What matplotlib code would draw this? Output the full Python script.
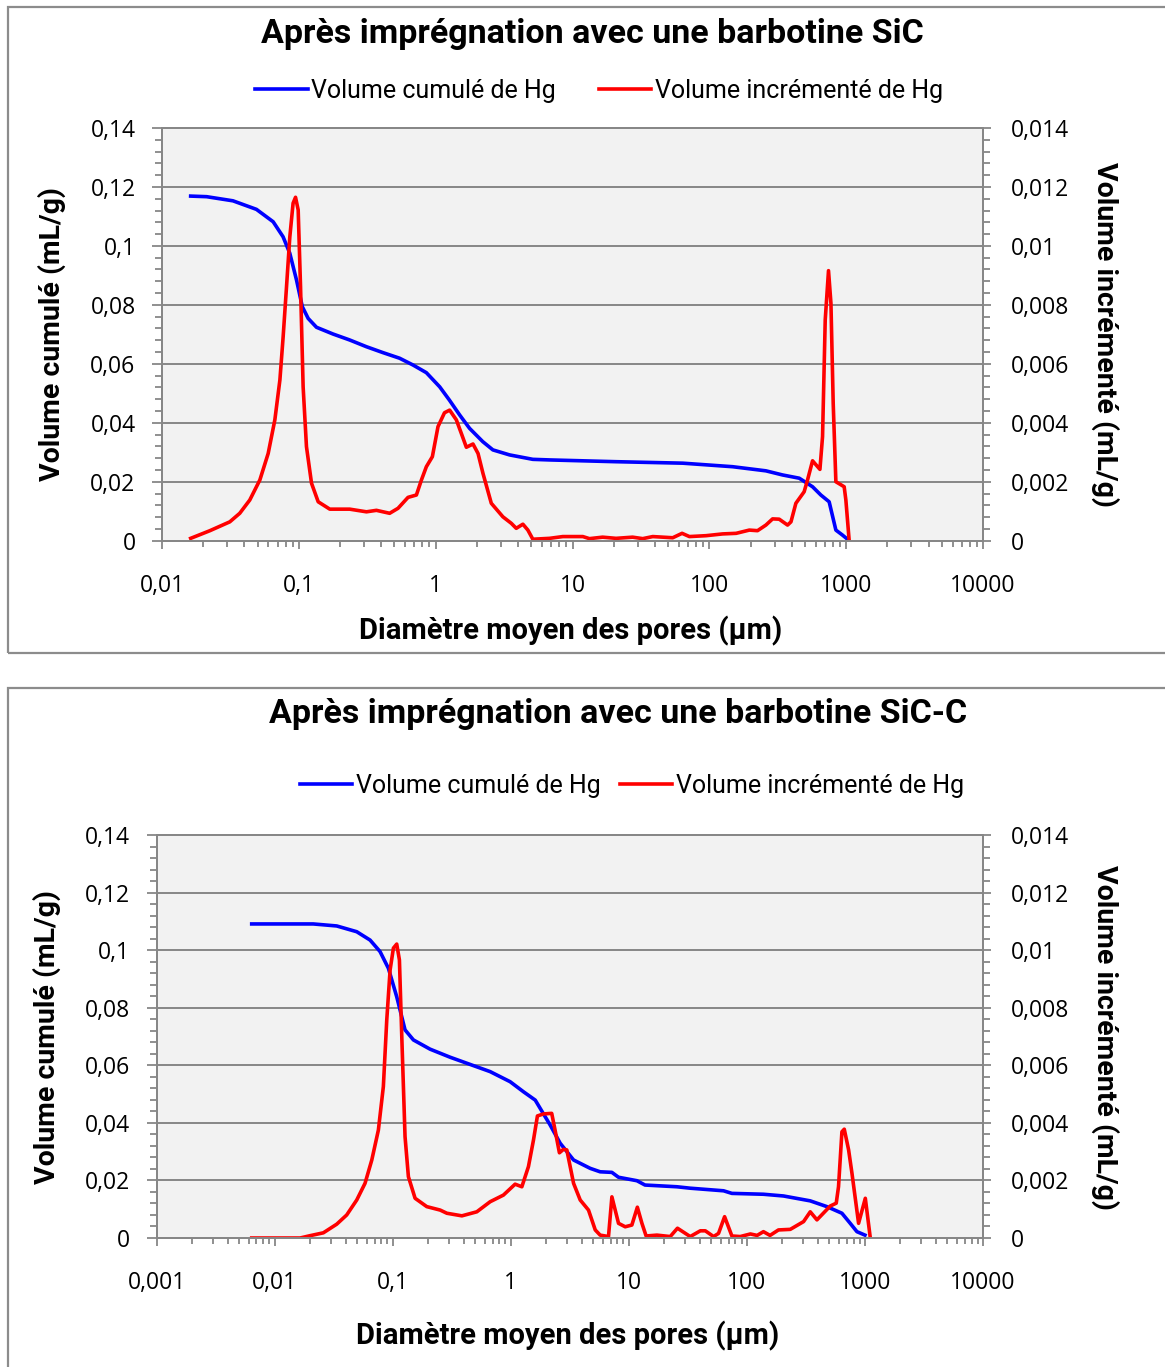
import matplotlib
matplotlib.use("Agg")
import matplotlib.pyplot as plt
from matplotlib.ticker import FuncFormatter, LogLocator, NullFormatter, MultipleLocator
from matplotlib.patches import Rectangle

# ---------------- data ----------------
titles = ["Après imprégnation avec une barbotine SiC",
          "Après imprégnation avec une barbotine SiC-C"]
legend_labels = ["Volume cumulé de Hg", "Volume incrémenté de Hg"]
xlabel = "Diamètre moyen des pores (µm)"
ylabel_left = "Volume cumulé (mL/g)"
ylabel_right = "Volume incrémenté (mL/g)"

# Panel 1 (SiC)
d_cum1 = [0.0162, 0.0212, 0.033, 0.049, 0.0649, 0.0767, 0.0859, 0.0962, 0.106, 0.117,
          0.1346, 0.178, 0.235, 0.312, 0.412, 0.545, 0.683, 0.855, 1.07, 1.26,
          1.50, 1.77, 2.21, 2.62, 3.47, 5.13, 6.79, 20.8, 63.9, 148,
          259, 343, 454, 568, 653, 751, 841, 940, 1023]
v_cum1 = [0.1169, 0.1167, 0.1153, 0.1124, 0.1082, 0.1031, 0.0975, 0.0884, 0.0794, 0.0754,
          0.0724, 0.0701, 0.0681, 0.0658, 0.0638, 0.0619, 0.0596, 0.0570, 0.0522, 0.0477,
          0.0426, 0.0381, 0.0336, 0.0308, 0.0291, 0.0276, 0.0274, 0.0268, 0.0263, 0.0251,
          0.0237, 0.0223, 0.0212, 0.0183, 0.0155, 0.0132, 0.0036, 0.0019, 0.0005]
d_inc1 = [0.0162, 0.0224, 0.0313, 0.037, 0.0438, 0.0519, 0.0597, 0.0668, 0.0727, 0.0768,
          0.0813, 0.0859, 0.0908, 0.0946, 0.0989, 0.1029, 0.1075, 0.1137, 0.1238, 0.1385,
          0.1684, 0.2355, 0.312, 0.369, 0.461, 0.531, 0.628, 0.723, 0.787, 0.855,
          0.946, 1.04, 1.16, 1.265, 1.416, 1.54, 1.676, 1.874, 2.04, 2.215,
          2.55, 3.10, 3.57, 3.88, 4.34, 4.72, 5.13, 6.79, 8.5, 11.9,
          13.3, 16.6, 20.8, 27.5, 32.6, 38.6, 54, 63.2, 71.5, 94.6,
          125, 157, 196, 225, 259, 290, 324, 373, 395, 429,
          493, 522, 568, 643, 672, 703, 743, 774, 804, 841,
          967, 995, 1052]
v_inc1 = [0.00008, 0.00034, 0.00064, 0.00093, 0.00138, 0.00206, 0.00296, 0.0041, 0.00545, 0.00692,
          0.00862, 0.0103, 0.01145, 0.01165, 0.01122, 0.00862, 0.00522, 0.00319, 0.00195, 0.00132,
          0.00107, 0.00107, 0.00098, 0.00103, 0.00093, 0.0011, 0.00147, 0.00155, 0.00206, 0.00251,
          0.00285, 0.00387, 0.00434, 0.00443, 0.0041, 0.00364, 0.00317, 0.00328, 0.00296, 0.00229,
          0.00127, 0.00081, 0.00059, 0.00042, 0.00056, 0.00036, 0.00005, 0.00008, 0.00014, 0.00014,
          0.00007, 0.00012, 0.00008, 0.00012, 0.00007, 0.00014, 0.0001, 0.00025, 0.00014, 0.00017,
          0.00023, 0.00025, 0.00036, 0.00034, 0.00053, 0.00074, 0.00073, 0.00053, 0.00064, 0.00127,
          0.00166, 0.00206, 0.00271, 0.00242, 0.00353, 0.00749, 0.00916, 0.00805, 0.00466, 0.002,
          0.00183, 0.00138, 0.0]

# Panel 2 (SiC-C)
d_cum2 = [0.00638, 0.0212, 0.0335, 0.0495, 0.0642, 0.078, 0.0918, 0.108, 0.127, 0.1496,
          0.207, 0.306, 0.452, 0.668, 0.986, 1.28, 1.61, 2.15, 2.62, 3.40,
          4.70, 5.71, 7.18, 8.17, 11.7, 13.7, 25.5, 33.1, 63.4, 74.6,
          138, 204, 344, 476, 638, 750, 855, 1000]
v_cum2 = [0.1091, 0.1091, 0.1084, 0.1064, 0.1035, 0.0995, 0.0937, 0.0838, 0.0723, 0.0688,
          0.0656, 0.0628, 0.0603, 0.0578, 0.0543, 0.0508, 0.0479, 0.0393, 0.0329, 0.0271,
          0.0242, 0.0230, 0.0228, 0.0211, 0.0199, 0.0184, 0.0178, 0.0173, 0.0164, 0.0155,
          0.0152, 0.0146, 0.0129, 0.0109, 0.0086, 0.0051, 0.0022, 0.0010]
d_inc2 = [0.00638, 0.0164, 0.0199, 0.0258, 0.0335, 0.0407, 0.0495, 0.0582, 0.0664, 0.0755,
          0.0832, 0.0889, 0.0949, 0.1012, 0.108, 0.1138, 0.1192, 0.127, 0.1356, 0.1545,
          0.194, 0.252, 0.287, 0.385, 0.515, 0.668, 0.865, 1.087, 1.24, 1.41,
          1.555, 1.68, 1.89, 2.22, 2.37, 2.58, 2.79, 2.98, 3.40, 3.87,
          4.55, 5.19, 5.71, 6.72, 7.18, 8.17, 9.31, 10.6, 11.8, 12.9,
          14.0, 17.3, 22.4, 25.8, 33.1, 40.3, 44.4, 52.2, 57.5, 64.7,
          74.6, 87.8, 107, 122, 138, 157, 185, 233, 302, 344,
          392, 508, 571, 597, 638, 668, 727, 776, 883, 1007, 1110]
v_inc2 = [0, 0, 0.00008, 0.00018, 0.00048, 0.0008, 0.00132, 0.0019, 0.00271, 0.00375,
          0.00526, 0.00757, 0.00931, 0.01007, 0.01021, 0.00966, 0.00699, 0.00352, 0.00213, 0.00138,
          0.00109, 0.00097, 0.00086, 0.00077, 0.00091, 0.00126, 0.00149, 0.00187, 0.00178, 0.00248,
          0.0034, 0.00424, 0.00431, 0.00433, 0.00375, 0.00296, 0.00308, 0.00306, 0.0019, 0.00132,
          0.00097, 0.00028, 0.0001, 0.00005, 0.00143, 0.00051, 0.00039, 0.00045, 0.00107, 0.00051,
          0.00007, 0.0001, 0.00005, 0.00034, 0.00005, 0.00025, 0.00025, 0.00005, 0.00016, 0.00074,
          0.00007, 0.00005, 0.00014, 0.00009, 0.00022, 0.00009, 0.00028, 0.0003, 0.00057, 0.00091,
          0.00063, 0.00111, 0.00121, 0.00178, 0.00369, 0.00378, 0.00306, 0.00225, 0.00051, 0.00138, 0.0]

xlims = [(0.01, 10000), (0.001, 10000)]

# ---------------- style ----------------
W, H = 1165, 1367
GRAY = "#878787"
BG = "#F2F2F2"
NARROW = ["Roboto", "DejaVu Sans"]
TICKF = ["Open Sans", "Noto Sans", "DejaVu Sans"]

fig = plt.figure(figsize=(W / 100, H / 100), dpi=100)

def fx(px):
    return px / W

def fy(py):
    return 1 - py / H

# panel frames
fig.patches.append(Rectangle((fx(8), fy(653)), fx(1175) - fx(8), fy(7) - fy(653),
                             transform=fig.transFigure, fill=False, ec="#8c8c8c", lw=1.6))
fig.patches.append(Rectangle((fx(8), fy(1380)), fx(1175) - fx(8), fy(688) - fy(1380),
                             transform=fig.transFigure, fill=False, ec="#8c8c8c", lw=1.6))

comma = FuncFormatter(lambda v, p: ("%g" % v).replace(".", ","))

panels = [
    dict(rect=(162, 128, 983, 540.7), d_cum=d_cum1, v_cum=v_cum1, d_inc=d_inc1, v_inc=v_inc1,
         xlim=xlims[0], title=titles[0], title_xy=(592, 34), leg_xy=(599, 91), colsp=1.7,
         ylab_l=(52, 334), ylab_r=(1105, 334), xlab=(571, 631)),
    dict(rect=(156.7, 835, 983, 1238), d_cum=d_cum2, v_cum=v_cum2, d_inc=d_inc2, v_inc=v_inc2,
         xlim=xlims[1], title=titles[1], title_xy=(618, 714), leg_xy=(632, 786), colsp=0.75,
         ylab_l=(47, 1037), ylab_r=(1105, 1037), xlab=(568, 1336)),
]

for P in panels:
    x0, y0, x1, y1 = P["rect"]
    ax = fig.add_axes([fx(x0), fy(y1), fx(x1) - fx(x0), fy(y0) - fy(y1)])
    ax.set_facecolor(BG)
    ax.set_xscale("log")
    ax.set_xlim(*P["xlim"])
    ax.set_ylim(0, 0.14)
    ax.yaxis.set_major_locator(MultipleLocator(0.02))
    ax.yaxis.set_minor_locator(MultipleLocator(0.004))
    ax.yaxis.set_major_formatter(comma)
    ax.xaxis.set_major_locator(LogLocator(base=10, numticks=20))
    ax.xaxis.set_minor_locator(LogLocator(base=10, subs=range(2, 10), numticks=100))
    ax.xaxis.set_major_formatter(comma)
    ax.xaxis.set_minor_formatter(NullFormatter())
    ax.grid(axis="y", which="major", color=GRAY, lw=1.4)
    ax.set_axisbelow(True)
    for s in ["left", "bottom", "right", "top"]:
        ax.spines[s].set_color(GRAY)
        ax.spines[s].set_linewidth(1.4)
    ax.tick_params(axis="both", which="both", color=GRAY, width=1.3, direction="out",
                   labelfontfamily=TICKF, labelsize=16.5)
    ax.tick_params(axis="y", which="major", length=7, pad=12)
    ax.tick_params(axis="y", which="minor", length=5)
    ax.tick_params(axis="x", which="major", length=6, pad=18)
    ax.tick_params(axis="x", which="minor", length=4)
    l1, = ax.plot(P["d_cum"], P["v_cum"], color="#0000FF", lw=2.6, solid_joinstyle="round")

    ax2 = ax.twinx()
    ax2.set_ylim(0, 0.014)
    ax2.yaxis.set_major_locator(MultipleLocator(0.002))
    ax2.yaxis.set_minor_locator(MultipleLocator(0.0004))
    ax2.yaxis.set_major_formatter(comma)
    for s in ["left", "bottom", "right", "top"]:
        ax2.spines[s].set_color(GRAY)
        ax2.spines[s].set_linewidth(1.4)
    ax2.tick_params(axis="y", which="both", color=GRAY, width=1.3, direction="out",
                    labelfontfamily=TICKF, labelsize=16.5)
    ax2.tick_params(axis="y", which="major", length=6, pad=14)
    ax2.tick_params(axis="y", which="minor", length=5)
    l2, = ax2.plot(P["d_inc"], P["v_inc"], color="#FF0000", lw=2.6, solid_joinstyle="round")

    fig.text(fx(P["title_xy"][0]), fy(P["title_xy"][1]), P["title"], ha="center", va="center",
             family=NARROW, fontweight="bold", fontsize=24.5)
    fig.legend([l1, l2], legend_labels, loc="center",
               bbox_to_anchor=(fx(P["leg_xy"][0]), fy(P["leg_xy"][1])),
               ncol=2, frameon=False, handlelength=2.1, handletextpad=0.15,
               columnspacing=P["colsp"], prop=dict(family=NARROW, size=18))
    fig.text(fx(P["ylab_l"][0]), fy(P["ylab_l"][1]), ylabel_left, rotation=90,
             ha="center", va="center", family=NARROW, fontweight="bold", fontsize=20.5)
    fig.text(fx(P["ylab_r"][0]), fy(P["ylab_r"][1]), ylabel_right, rotation=-90,
             ha="center", va="center", family=NARROW, fontweight="bold", fontsize=20.5)
    fig.text(fx(P["xlab"][0]), fy(P["xlab"][1]), xlabel, ha="center", va="center",
             family=NARROW, fontweight="bold", fontsize=21)

fig.savefig("out.png", dpi=100)
